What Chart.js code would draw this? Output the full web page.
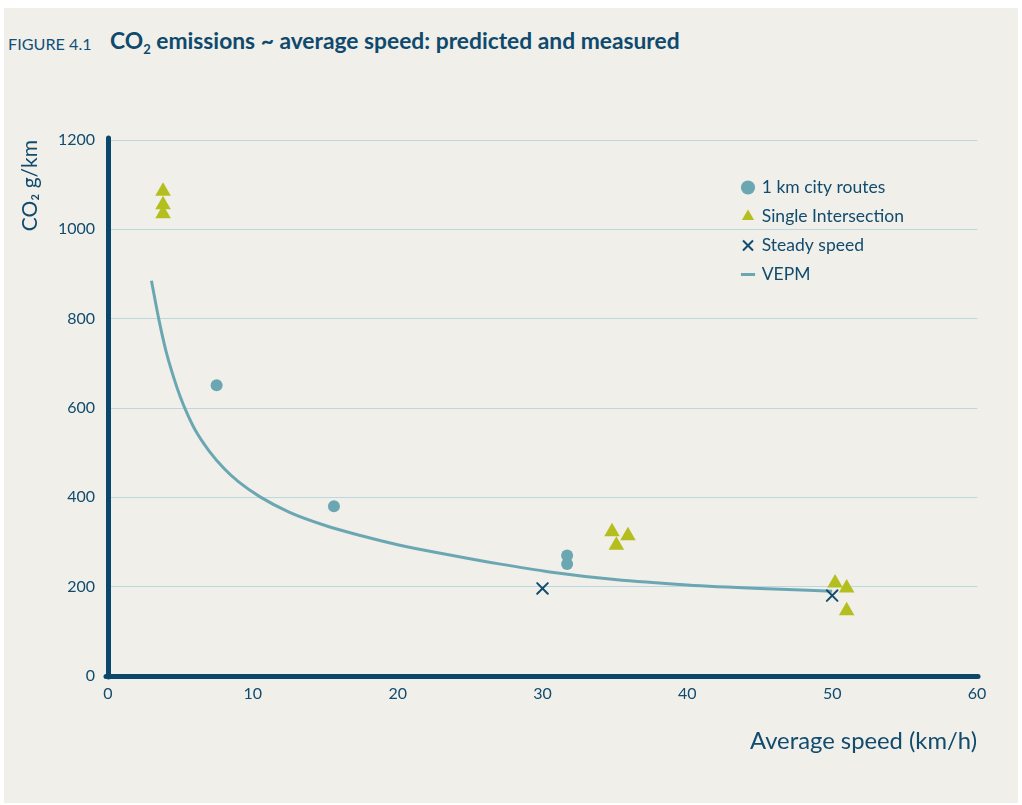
<!DOCTYPE html>
<html lang="en">
<head>
  <meta charset="utf-8" />
  <title>CO2 emissions ~ average speed: predicted and measured</title>
  <style>
    html, body { margin: 0; padding: 0; background: #fff; }
    body { width: 1022px; height: 805px; position: relative; overflow: hidden; font-family: Lato, "Open Sans", sans-serif; }
    .panel { position: absolute; left: 4px; top: 8px; width: 1014px; height: 795px; background: #f0efe9; }
    .fig { position: absolute; left: 8px; top: 36px; font-size: 16.2px; line-height: 1; color: #11507a; white-space: nowrap; }
    .title { position: absolute; left: 110px; top: 29px; font-size: 22.8px; line-height: 1; font-weight: 700; color: #0f4a6e; white-space: nowrap; }
    .title sub { font-size: 13px; vertical-align: -5px; line-height: 0; }
    canvas { position: absolute; left: 0; top: 0; }
  </style>
</head>
<body>
  <div class="panel"></div>
  <div class="fig">FIGURE 4.1</div>
  <div class="title">CO<sub>2</sub> emissions ~ average speed: predicted and measured</div>
  <canvas id="chart" width="1022" height="805"></canvas>
  <script src="https://cdn.jsdelivr.net/npm/chart.js@4.4.1/dist/chart.umd.min.js"></script>
  <script>
  // values
  const cityX = [7.5, 15.6, 31.7, 31.7];
  const cityY = [651, 380, 270, 251];
  const interX = [3.8, 3.8, 3.8, 34.8, 35.1, 35.9, 50.2, 51.0, 51.0];
  const interY = [1085, 1055, 1035, 323, 293, 314, 208, 197, 146];
  const steadyX = [30.0, 50.0];
  const steadyY = [196, 180];
  const vepmX = [3.0, 3.5, 4.0, 4.5, 5.0, 5.5, 6.0, 7.0, 8.0, 9.0, 10.5, 12.5, 15.0, 17.5, 20.0, 23.6, 27.0, 30.5, 35.0, 40.0, 45.0, 50.0];
  const vepmY = [885, 800, 728, 672, 624, 585, 552, 503, 465, 435, 401, 367, 337, 314, 294, 271, 251, 233, 216, 204, 196, 190];
  const seriesNames = ["1 km city routes", "Single Intersection", "Steady speed", "VEPM"];

  const pts = (xs, ys) => xs.map((x, i) => ({ x: x, y: ys[i] }));

  const NAVY = "#114b6e";
  const AXIS = "#0b466b";
  const TEAL = "#6ba7b3";
  const LIME = "#b4bf1f";
  const GRID = "#bcd8de";
  const FONT = "Lato, 'Open Sans', sans-serif";

  const roundCaps = {
    id: "roundCaps",
    beforeDraw(chart) { chart.ctx.lineCap = "round"; }
  };
  // park the legend in the upper right of the plot
  const legendSpot = {
    id: "legendSpot",
    afterLayout(chart) {
      const l = chart.legend;
      const w = l.width, h = l.height;
      l.left = 731.5; l.top = 167.2;
      l.right = l.left + w; l.bottom = l.top + h;
    }
  };

  new Chart(document.getElementById("chart"), {
    type: "scatter",
    data: {
      datasets: [
        {
          label: seriesNames[0],
          data: pts(cityX, cityY),
          pointStyle: "circle",
          pointRadius: 6,
          backgroundColor: TEAL,
          borderColor: TEAL,
          borderWidth: 0
        },
        {
          label: seriesNames[1],
          data: pts(interX, interY),
          pointStyle: "triangle",
          pointRadius: 9,
          backgroundColor: LIME,
          borderColor: LIME,
          borderWidth: 0
        },
        {
          label: seriesNames[2],
          data: pts(steadyX, steadyY),
          pointStyle: "crossRot",
          pointRadius: 7.5,
          backgroundColor: NAVY,
          borderColor: NAVY,
          borderWidth: 2
        },
        {
          label: seriesNames[3],
          type: "line",
          data: pts(vepmX, vepmY),
          showLine: true,
          borderColor: TEAL,
          backgroundColor: TEAL,
          borderWidth: 3,
          borderCapStyle: "butt",
          cubicInterpolationMode: "monotone",
          pointStyle: "line",
          pointRadius: 0,
          pointBorderWidth: 3,
          fill: false
        }
      ]
    },
    options: {
      responsive: false,
      devicePixelRatio: 1,
      animation: false,
      layout: { padding: { left: 0, top: 140, right: 45, bottom: 39 } },
      plugins: {
        tooltip: { enabled: false },
        legend: {
          position: "chartArea",
          align: "start",
          labels: {
            usePointStyle: true,
            boxWidth: 10,
            boxHeight: 10,
            padding: 11.5,
            color: NAVY,
            font: { family: FONT, size: 17.5 }
          }
        }
      },
      scales: {
        x: {
          type: "linear",
          min: 0,
          max: 60,
          afterFit(scale) { scale.height = 90; },
          ticks: {
            stepSize: 10,
            padding: 8,
            color: NAVY,
            font: { family: FONT, size: 16 },
            callback: (v) => String(v)
          },
          grid: { display: false, drawTicks: false },
          border: { display: true, color: AXIS, width: 5 },
          title: {
            display: true,
            text: "Average speed (km/h)",
            align: "end",
            color: NAVY,
            padding: { top: 0, bottom: 10 },
            font: { family: FONT, size: 23.8 }
          }
        },
        y: {
          type: "linear",
          min: 0,
          max: 1200,
          afterFit(scale) { scale.width = 108; },
          ticks: {
            stepSize: 200,
            padding: 13,
            color: NAVY,
            font: { family: FONT, size: 16 },
            callback: (v) => String(v)
          },
          grid: { color: GRID, lineWidth: 1, drawTicks: false },
          border: { display: true, color: AXIS, width: 5 },
          title: {
            display: true,
            text: "CO\u2082 g/km",
            align: "end",
            color: NAVY,
            padding: { top: 18, bottom: 0 },
            font: { family: FONT, size: 21 }
          }
        }
      }
    },
    plugins: [roundCaps, legendSpot]
  });
  </script>
</body>
</html>
